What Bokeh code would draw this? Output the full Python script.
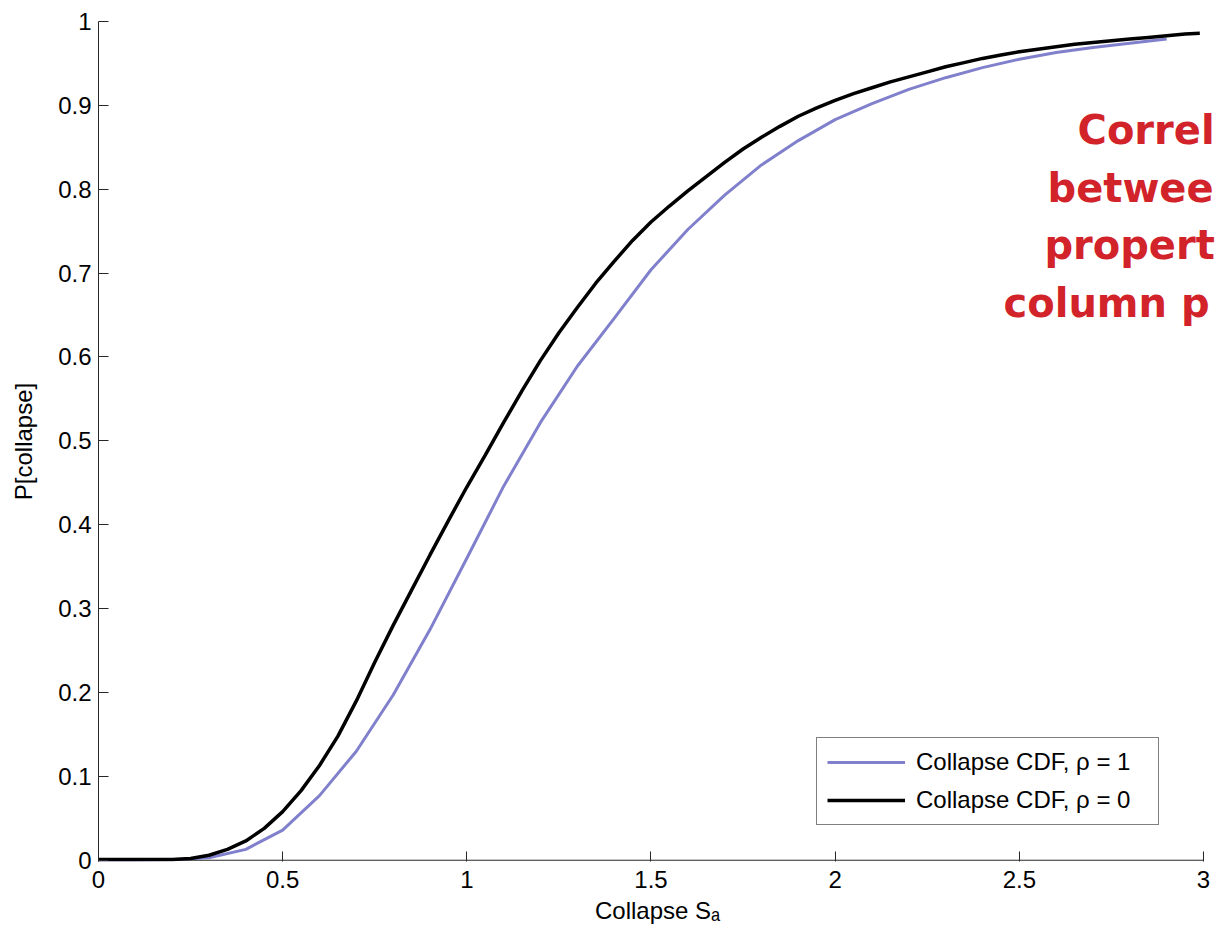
from bokeh.plotting import figure
from bokeh.models import Range1d, FixedTicker, Label, Legend, LegendItem
from bokeh.embed import file_html
from bokeh.resources import INLINE

# ---- data ----
sa_rho1 = [0.0, 0.1, 0.2, 0.3, 0.4, 0.5, 0.6, 0.7, 0.8, 0.9, 1.0, 1.1, 1.2, 1.3, 1.4,
           1.5, 1.6, 1.7, 1.8, 1.9, 2.0, 2.1, 2.2, 2.3, 2.4, 2.5, 2.6, 2.7, 2.8, 2.9]
p_rho1 = [0.0, 0.0, 0.0005, 0.003, 0.013, 0.036, 0.077, 0.130, 0.197, 0.275, 0.360,
          0.446, 0.522, 0.589, 0.646, 0.704, 0.752, 0.793, 0.829, 0.858, 0.883, 0.902,
          0.919, 0.933, 0.945, 0.955, 0.963, 0.969, 0.974, 0.979]

sa_rho0 = [0.0, 0.05, 0.1, 0.15, 0.2, 0.25, 0.3, 0.35, 0.4, 0.45, 0.5, 0.55, 0.6, 0.65,
           0.7, 0.75, 0.8, 0.85, 0.9, 0.95, 1.0, 1.05, 1.1, 1.15, 1.2, 1.25, 1.3, 1.35,
           1.4, 1.45, 1.5, 1.55, 1.6, 1.65, 1.7, 1.75, 1.8, 1.85, 1.9, 1.95, 2.0, 2.05,
           2.1, 2.15, 2.2, 2.25, 2.3, 2.35, 2.4, 2.45, 2.5, 2.55, 2.6, 2.65, 2.7, 2.75,
           2.8, 2.85, 2.9, 2.95, 2.99]
p_rho0 = [0.001, 0.001, 0.001, 0.001, 0.001, 0.002, 0.006, 0.013, 0.023, 0.038, 0.058,
          0.083, 0.113, 0.148, 0.190, 0.236, 0.280, 0.322, 0.364, 0.405, 0.445, 0.483,
          0.522, 0.560, 0.596, 0.629, 0.659, 0.688, 0.714, 0.739, 0.761, 0.780, 0.798,
          0.815, 0.832, 0.848, 0.862, 0.875, 0.887, 0.897, 0.906, 0.914, 0.921, 0.928,
          0.934, 0.940, 0.946, 0.951, 0.956, 0.960, 0.964, 0.967, 0.970, 0.973, 0.975,
          0.977, 0.979, 0.981, 0.983, 0.985, 0.986]

x_ticks = [0, 0.5, 1, 1.5, 2, 2.5, 3]
x_tick_labels = ["0", "0.5", "1", "1.5", "2", "2.5", "3"]
y_ticks = [0, 0.1, 0.2, 0.3, 0.4, 0.5, 0.6, 0.7, 0.8, 0.9, 1]
y_tick_labels = ["0", "0.1", "0.2", "0.3", "0.4", "0.5", "0.6", "0.7", "0.8", "0.9", "1"]

legend_labels = ["Collapse CDF, \u03c1 = 1", "Collapse CDF, \u03c1 = 0"]
note_lines = ["Correl", "betwee", "propert", "column p"]

FONT = "Liberation Sans"
BLUE = "#8080CC"
RED = "#D2232A"
AXIS = "#262626"

# frame reaches the right edge of the page so the red note sits at the edge, as in the reference
p = figure(width=1216, height=937, output_backend="svg", toolbar_location=None,
           x_range=Range1d(0, 3.0353), y_range=Range1d(-0.0015, 1),
           min_border_left=98, min_border_right=0, min_border_top=21, min_border_bottom=76)
p.outline_line_color = None
p.background_fill_color = "white"
p.border_fill_color = "white"
p.xgrid.visible = False
p.ygrid.visible = False

for ax, ticks, labels in ((p.xaxis[0], x_ticks, x_tick_labels), (p.yaxis[0], y_ticks, y_tick_labels)):
    ax.ticker = FixedTicker(ticks=ticks)
    ax.major_label_overrides = {t: l for t, l in zip(ticks, labels)}
    ax.major_tick_in = 10
    ax.major_tick_out = 0
    ax.minor_tick_line_color = None
    ax.axis_line_color = AXIS
    ax.major_tick_line_color = AXIS
    ax.major_label_text_font = FONT
    ax.major_label_text_font_size = "24px"
    ax.major_label_text_color = "black"

p.xaxis.axis_line_color = None
p.xaxis.major_label_standoff = 9
p.xaxis.axis_label = "Collapse S\u2090"
p.xaxis.axis_label_standoff = 6
p.yaxis.major_label_standoff = 7
p.yaxis.axis_label = "P[collapse]"
p.yaxis.axis_label_standoff = 18
for ax in (p.xaxis[0], p.yaxis[0]):
    ax.axis_label_text_font = FONT
    ax.axis_label_text_font_size = "24px"
    ax.axis_label_text_font_style = "normal"
    ax.axis_label_text_color = "black"

# bottom axis line, from the first to the last tick
p.segment(x0=[x_ticks[0]], y0=[y_ticks[0]], x1=[x_ticks[-1]], y1=[y_ticks[0]],
          line_color=AXIS, line_width=1)

r1 = p.line(sa_rho1, p_rho1, line_color=BLUE, line_width=3)
r0 = p.line(sa_rho0, p_rho0, line_color="black", line_width=3.5)

legend = Legend(items=[LegendItem(label=legend_labels[0], renderers=[r1]),
                       LegendItem(label=legend_labels[1], renderers=[r0])],
                location=(718, 36), padding=10, margin=0, spacing=10,
                glyph_width=78, glyph_height=28, label_height=28, label_standoff=11,
                label_width=232,
                label_text_font=FONT, label_text_font_size="24px", label_text_color="black",
                border_line_color="black", border_line_width=1,
                background_fill_color="white", background_fill_alpha=1.0)
p.add_layout(legend)

# red annotation at the right edge
note_x = [2.658, 2.5765, 2.568, 2.457]
note_y = [0.871, 0.802, 0.733, 0.664]
for t, nx, ny in zip(note_lines, note_x, note_y):
    p.add_layout(Label(x=nx, y=ny, text=t, text_font="DejaVu Sans", text_font_style="bold",
                       text_font_size="40px", text_color=RED, text_baseline="alphabetic"))

open("out.html", "w").write(file_html(p, INLINE))
